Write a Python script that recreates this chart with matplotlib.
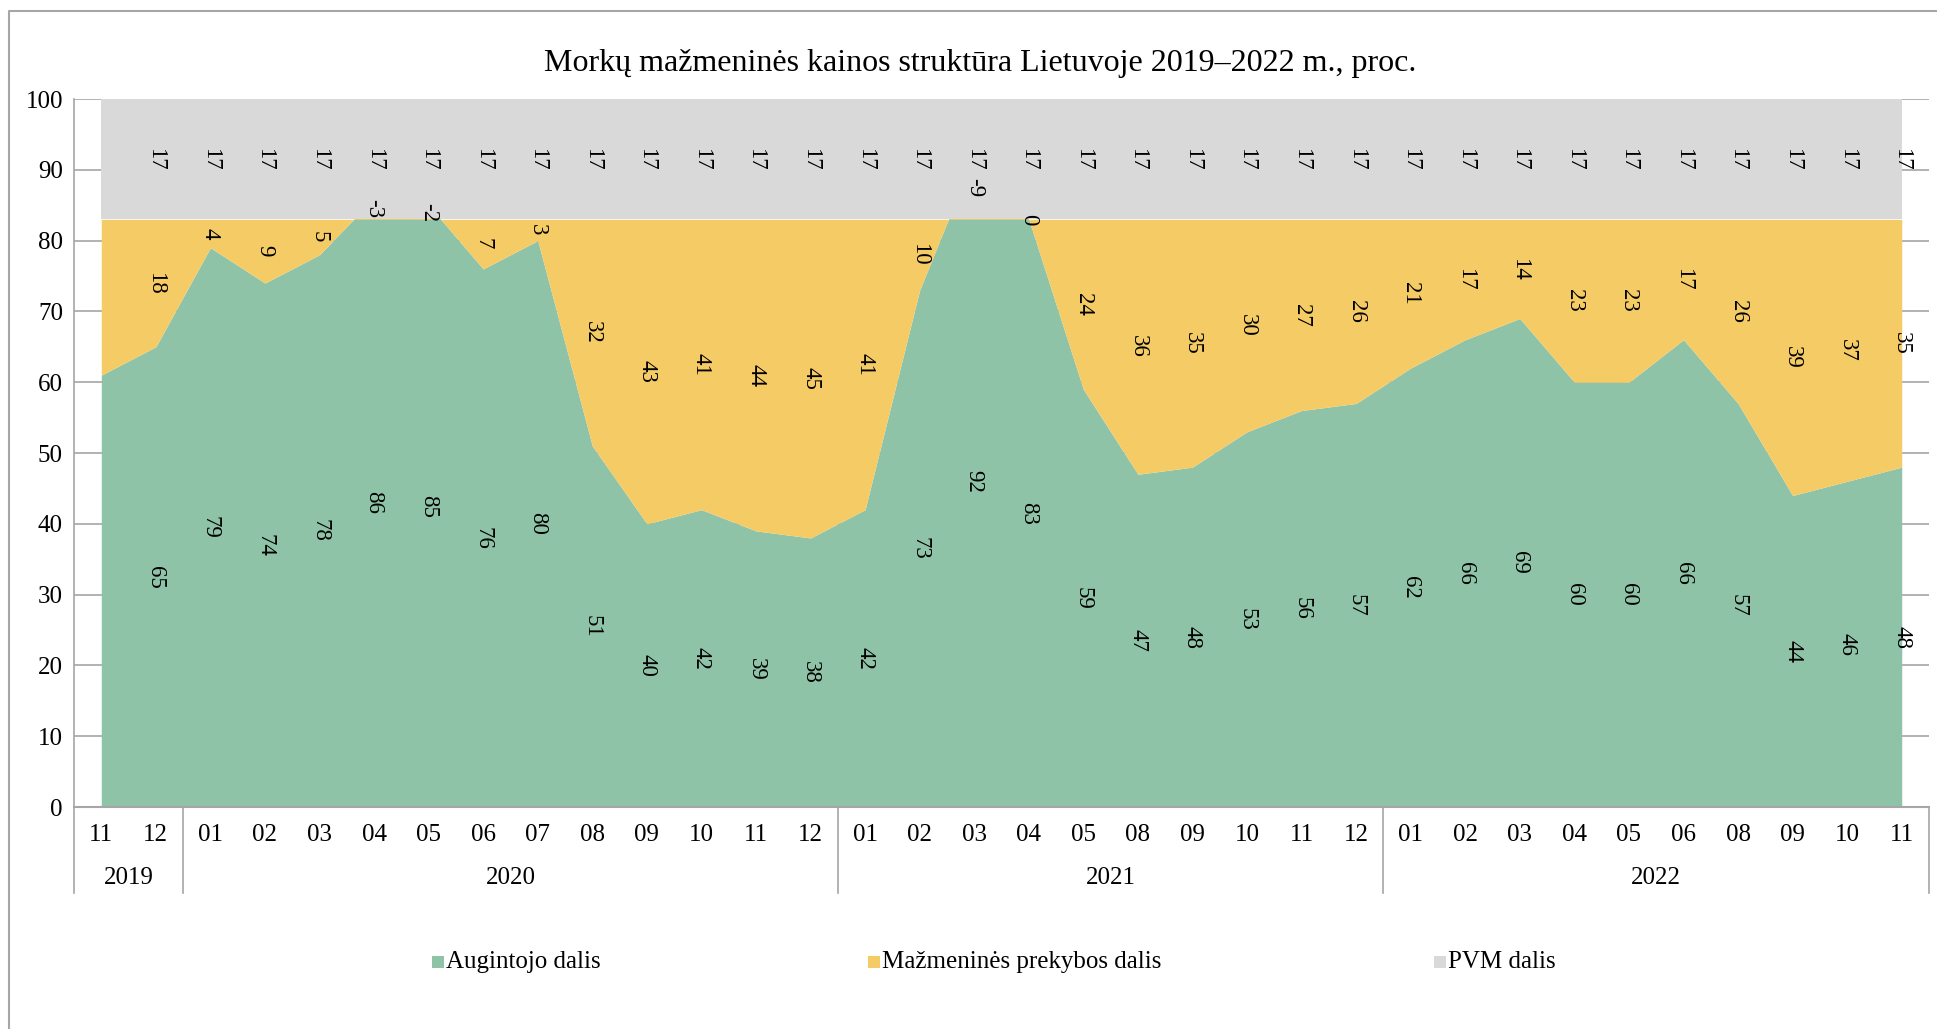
import matplotlib.pyplot as plt
from matplotlib.patches import Rectangle
from matplotlib.lines import Line2D
import matplotlib.transforms as mtransforms
import numpy as np

plt.rcParams['font.family'] = ['Liberation Serif', 'DejaVu Serif']

# category labels (month, year)
months = ['11', '12',
          '01', '02', '03', '04', '05', '06', '07', '08', '09', '10', '11', '12',
          '01', '02', '03', '04', '05', '08', '09', '10', '11', '12',
          '01', '02', '03', '04', '05', '06', '08', '09', '10', '11']
years = ['2019'] * 2 + ['2020'] * 12 + ['2021'] * 10 + ['2022'] * 10

# shares, %
grower = [61, 65, 79, 74, 78, 86, 85, 76, 80, 51, 40, 42, 39, 38,
          42, 73, 92, 83, 59, 47, 48, 53, 56, 57,
          62, 66, 69, 60, 60, 66, 57, 44, 46, 48]
retail = [22, 18, 4, 9, 5, -3, -2, 7, 3, 32, 43, 41, 44, 45,
          41, 10, -9, 0, 24, 36, 35, 30, 27, 26,
          21, 17, 14, 23, 23, 17, 26, 39, 37, 35]
vat = [17] * 34

series_names = ['Augintojo dalis', 'Mažmeninės prekybos dalis', 'PVM dalis']
colors = ['#8fc3a8', '#f5cb65', '#d9d9d9']

x = np.arange(len(months))
g = np.array(grower)
r = np.array(retail)
v = np.array(vat)
top1 = g
top2 = g + r
top3 = g + r + v

fig = plt.figure(figsize=(19.37, 10.29), dpi=100)
ax = fig.add_axes([74 / 1937, 1 - 807 / 1029, (1929 - 74) / 1937, (807 - 99) / 1029])

ax.fill_between(x, 0, top1, color=colors[0], lw=0, zorder=2)
ax.fill_between(x, top1, top2, color=colors[1], lw=0, zorder=3)
ax.fill_between(x, top2, top3, color=colors[2], lw=0, zorder=4)

ax.set_xlim(-0.5, len(months) - 0.5)
ax.set_ylim(0, 100)
ax.set_yticks(range(0, 101, 10))
ax.yaxis.grid(True, color='#a6a6a6', lw=1.2, zorder=0)
ax.set_axisbelow(True)
ax.tick_params(axis='y', length=0, labelsize=18, pad=8)
ax.set_xticks([])
for s in ['top', 'right']:
    ax.spines[s].set_visible(False)
ax.spines['left'].set_color('#a6a6a6')
ax.spines['bottom'].set_color('#a6a6a6')
ax.spines['left'].set_linewidth(1.2)
ax.spines['bottom'].set_linewidth(1.5)

# data labels (first point has none)
for i in range(1, len(months)):
    for val, ypos in [(g[i], g[i] / 2), (r[i], g[i] + r[i] / 2), (v[i], top2[i] + v[i] / 2)]:
        ax.text(x[i], ypos, str(val), rotation=270, ha='center', va='center',
                fontsize=16.5, zorder=6)

# category axis: months + year groups
trans = mtransforms.blended_transform_factory(ax.transData, fig.transFigure)
y_month = 1 - 835 / 1029
y_year = 1 - 878 / 1029
y_axis = 1 - 807 / 1029
y_sep = 1 - 893 / 1029
for i, m in enumerate(months):
    fig.text(x[i], y_month, m, transform=trans, ha='center', va='center', fontsize=18)

bounds = [-0.5]
for i in range(1, len(years)):
    if years[i] != years[i - 1]:
        bounds.append(i - 0.5)
bounds.append(len(years) - 0.5)
for b in bounds:
    fig.add_artist(Line2D([b, b], [y_sep, y_axis], transform=trans, color='#a6a6a6', lw=1.2))
for a, b in zip(bounds[:-1], bounds[1:]):
    fig.text((a + b) / 2, y_year, years[int(a + 0.5)], transform=trans,
             ha='center', va='center', fontsize=18)

# title
fig.text(980 / 1937, 1 - 64 / 1029, 'Morkų mažmeninės kainos struktūra Lietuvoje 2019–2022 m., proc.',
         ha='center', va='center', fontsize=23)

# legend
leg_sq = [432, 868, 1434]
ly = 1 - 962 / 1029
sq = 12
for xs, c, name in zip(leg_sq, colors, series_names):
    fig.add_artist(Rectangle((xs / 1937, ly - sq / 2 / 1029), sq / 1937, sq / 1029,
                             transform=fig.transFigure, color=c, lw=0))
    fig.text((xs + sq + 2) / 1937, ly, name, ha='left', va='center', fontsize=18)

# outer chart frame (only top/left visible)
fig.add_artist(Line2D([9 / 1937, 9 / 1937, 1.0], [0, 1 - 11 / 1029, 1 - 11 / 1029],
                      transform=fig.transFigure, color='#a6a6a6', lw=1.5))

fig.savefig('out.png', dpi=100)
